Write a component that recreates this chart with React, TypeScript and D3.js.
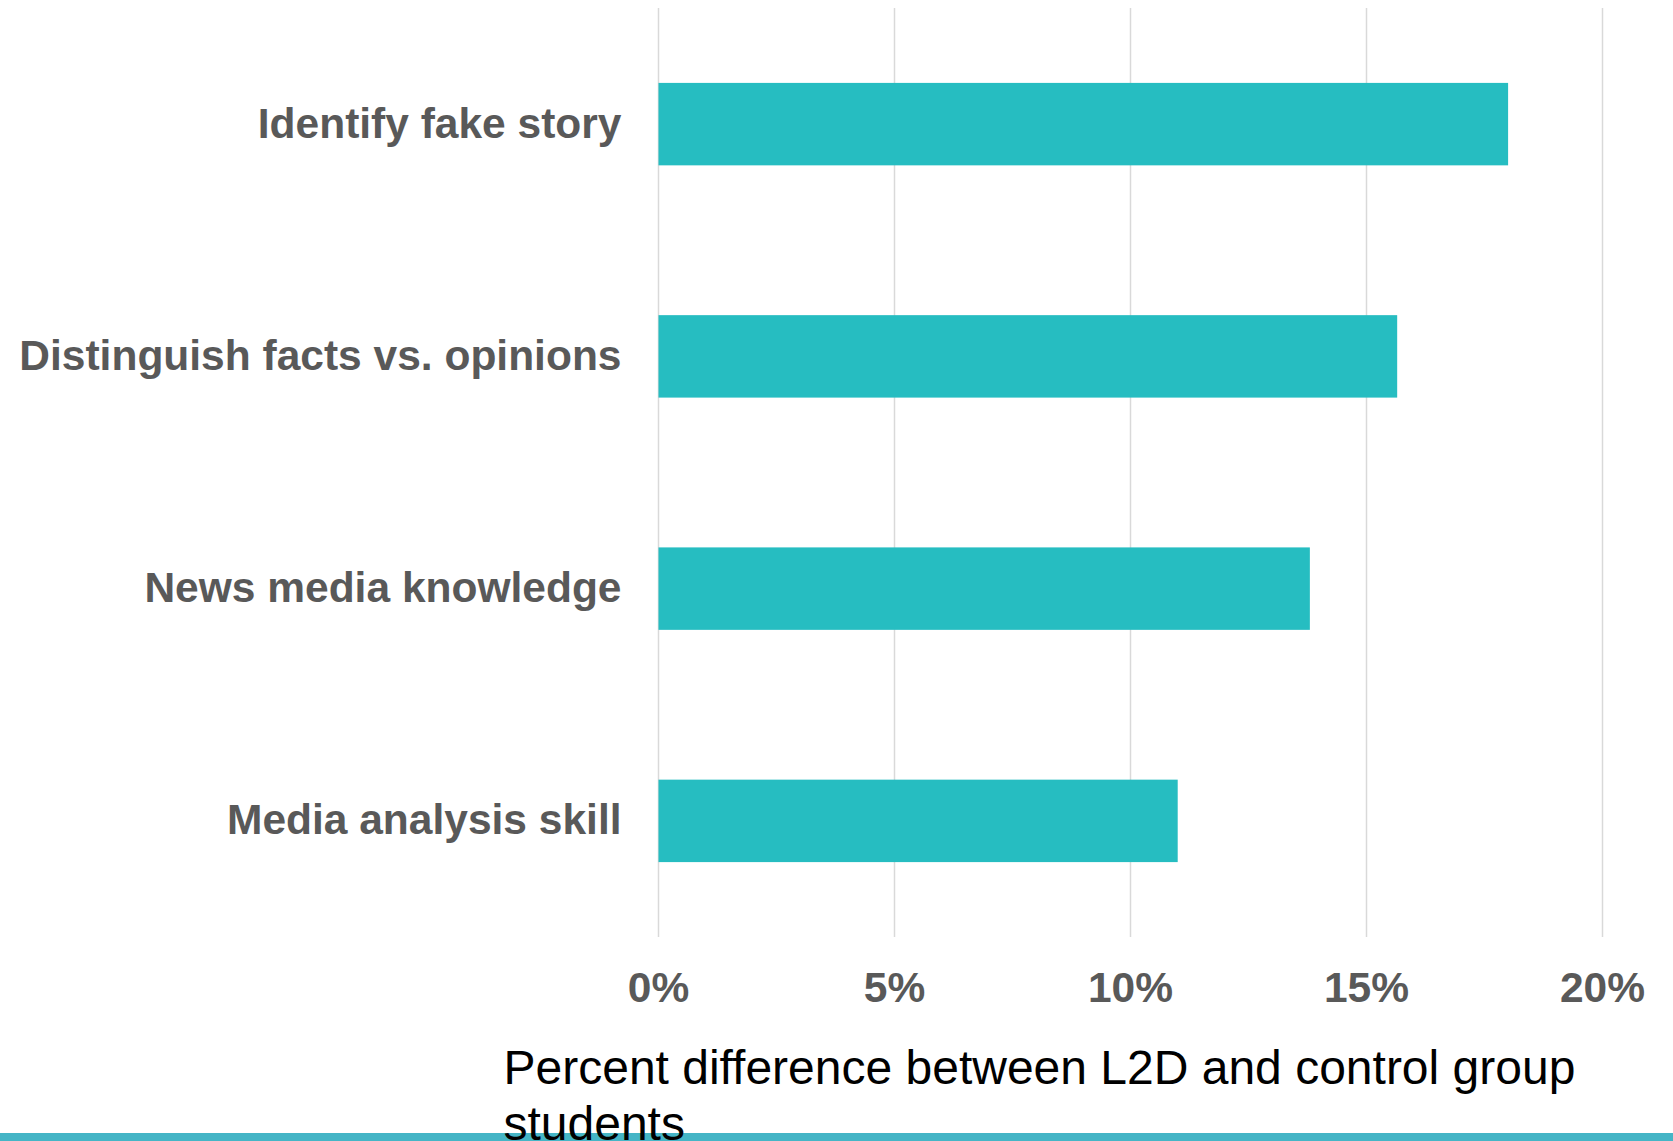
import { useEffect, useRef } from 'react';
import * as d3 from 'd3';

const WIDTH = 1673;
const HEIGHT = 1141;

const categories = [
  'Identify fake story',
  'Distinguish facts vs. opinions',
  'News media knowledge',
  'Media analysis skill',
];
const values = [18.0, 15.65, 13.8, 11.0];
const ticks = [0, 5, 10, 15, 20];
const axisTitleLines = ['Percent difference between L2D and control group', 'students'];

const PLOT = { left: 658.5, right: 1602.5, top: 8, bottom: 937 };
const BAR_COLOR = '#26bdc1';
const TEXT_GRAY = '#595959';
const FONT = '"Liberation Sans", Arial, Helvetica, sans-serif';

export default function App() {
  const svgRef = useRef<SVGSVGElement>(null);

  useEffect(() => {
    if (!svgRef.current) return;
    const svg = d3.select(svgRef.current);
    svg.selectAll('*').remove();

    const x = d3.scaleLinear().domain([0, 20]).range([PLOT.left, PLOT.right]);
    const y = d3
      .scaleBand<string>()
      .domain(categories)
      .range([PLOT.top, PLOT.bottom])
      .paddingInner(0.645)
      .paddingOuter(0.3225);

    svg.append('rect').attr('width', WIDTH).attr('height', HEIGHT).attr('fill', '#fff');

    // vertical gridlines
    svg
      .append('g')
      .selectAll('line')
      .data(ticks)
      .join('line')
      .attr('x1', (d) => x(d))
      .attr('x2', (d) => x(d))
      .attr('y1', PLOT.top)
      .attr('y2', PLOT.bottom)
      .attr('stroke', '#d9d9d9')
      .attr('stroke-width', 1.5);

    // bars
    svg
      .append('g')
      .selectAll('rect')
      .data(values)
      .join('rect')
      .attr('x', x(0))
      .attr('y', (_, i) => y(categories[i])!)
      .attr('width', (d) => x(d) - x(0))
      .attr('height', y.bandwidth())
      .attr('fill', BAR_COLOR);

    // category labels
    svg
      .append('g')
      .selectAll('text')
      .data(categories)
      .join('text')
      .attr('x', x(0) - 37)
      .attr('y', (d) => y(d)! + y.bandwidth() / 2)
      .attr('dy', '0.32em')
      .attr('text-anchor', 'end')
      .attr('font-family', FONT)
      .attr('font-size', 42.5)
      .attr('font-weight', 'bold')
      .attr('fill', TEXT_GRAY)
      .text((d) => d);

    // tick labels
    svg
      .append('g')
      .selectAll('text')
      .data(ticks)
      .join('text')
      .attr('x', (d) => x(d))
      .attr('y', 1002)
      .attr('text-anchor', 'middle')
      .attr('font-family', FONT)
      .attr('font-size', 42.5)
      .attr('font-weight', 'bold')
      .attr('fill', TEXT_GRAY)
      .text((d) => `${d}%`);

    // bottom band
    svg
      .append('rect')
      .attr('x', 0)
      .attr('y', 1133)
      .attr('width', WIDTH)
      .attr('height', HEIGHT - 1133)
      .attr('fill', '#45b5c6');

    // axis title (wrapped, second line runs off the bottom as in the source)
    svg
      .append('text')
      .attr('font-family', FONT)
      .attr('font-size', 48)
      .attr('fill', '#000')
      .selectAll('tspan')
      .data(axisTitleLines)
      .join('tspan')
      .attr('x', 503.5)
      .attr('y', (_, i) => 1084 + i * 56)
      .text((d) => d);
  }, []);

  return (
    <div style={{ position: 'absolute', left: 0, top: 0 }}>
      <svg ref={svgRef} width={WIDTH} height={HEIGHT} style={{ display: 'block' }} />
    </div>
  );
}
